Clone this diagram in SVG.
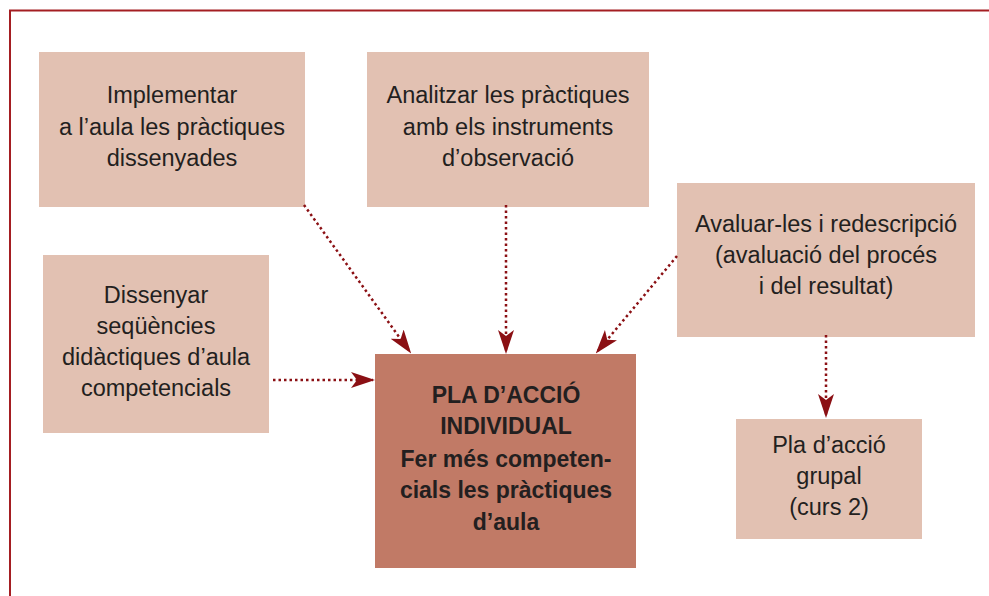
<svg xmlns="http://www.w3.org/2000/svg" width="989" height="596" viewBox="0 0 989 596">
<style>
.box{fill:#E2C1B2}
.main{fill:#C17A66}
.t{font-family:"Liberation Sans",Arial,sans-serif;font-size:23.5px;fill:#231F20;text-anchor:middle}
.b{font-weight:bold;font-size:23px}
.c{stroke:#8B1014;stroke-width:2.5;stroke-dasharray:2.5 3;fill:none}
</style>
<defs>
<marker id="ah" viewBox="0 0 24 16" refX="22" refY="8" markerWidth="24" markerHeight="16" markerUnits="userSpaceOnUse" orient="auto">
<path d="M0,0 L24,8 L0,16 L6,8 Z" fill="#8B1014"/>
</marker>
</defs>
<rect width="989" height="596" fill="#fff"/>
<path d="M10,596 V10.5 H989" fill="none" stroke="#A41E22" stroke-width="2"/>
<g id="n-implementar">
<rect class="box" x="39" y="52" width="266" height="155"/>
<text class="t" x="172" y="103">Implementar</text>
<text class="t" x="172" y="135">a l’aula les pràctiques</text>
<text class="t" x="172" y="166">dissenyades</text>
</g>
<g id="n-analitzar">
<rect class="box" x="367" y="52" width="282" height="155"/>
<text class="t" x="508" y="103">Analitzar les pràctiques</text>
<text class="t" x="508" y="135">amb els instruments</text>
<text class="t" x="508" y="166">d’observació</text>
</g>
<g id="n-avaluar">
<rect class="box" x="677" y="183" width="298" height="154"/>
<text class="t" x="826" y="232">Avaluar-les i redescripció</text>
<text class="t" x="826" y="263">(avaluació del procés</text>
<text class="t" x="826" y="294">i del resultat)</text>
</g>
<g id="n-dissenyar">
<rect class="box" x="43" y="255" width="226" height="178"/>
<text class="t" x="156" y="303">Dissenyar</text>
<text class="t" x="156" y="334">seqüències</text>
<text class="t" x="156" y="365">didàctiques d’aula</text>
<text class="t" x="156" y="396">competencials</text>
</g>
<g id="n-central">
<rect class="main" x="375" y="354" width="261" height="214"/>
<text class="t b" x="506" y="403">PLA D’ACCIÓ</text>
<text class="t b" x="506" y="434">INDIVIDUAL</text>
<text class="t b" x="506" y="467">Fer més competen-</text>
<text class="t b" x="506" y="498">cials les pràctiques</text>
<text class="t b" x="506" y="530">d’aula</text>
</g>
<g id="n-grupal">
<rect class="box" x="736" y="419" width="186" height="120"/>
<text class="t" x="829" y="453">Pla d’acció</text>
<text class="t" x="829" y="484">grupal</text>
<text class="t" x="829" y="515">(curs 2)</text>
</g>
<g id="connectors">
<line class="c" x1="304" y1="205" x2="410" y2="352" marker-end="url(#ah)"/>
<line class="c" x1="506" y1="205" x2="506" y2="352" marker-end="url(#ah)"/>
<line class="c" x1="677" y1="256" x2="597" y2="352" marker-end="url(#ah)"/>
<line class="c" x1="273" y1="380" x2="373" y2="380" marker-end="url(#ah)"/>
<line class="c" x1="826" y1="335" x2="826" y2="416" marker-end="url(#ah)"/>
</g>
</svg>
